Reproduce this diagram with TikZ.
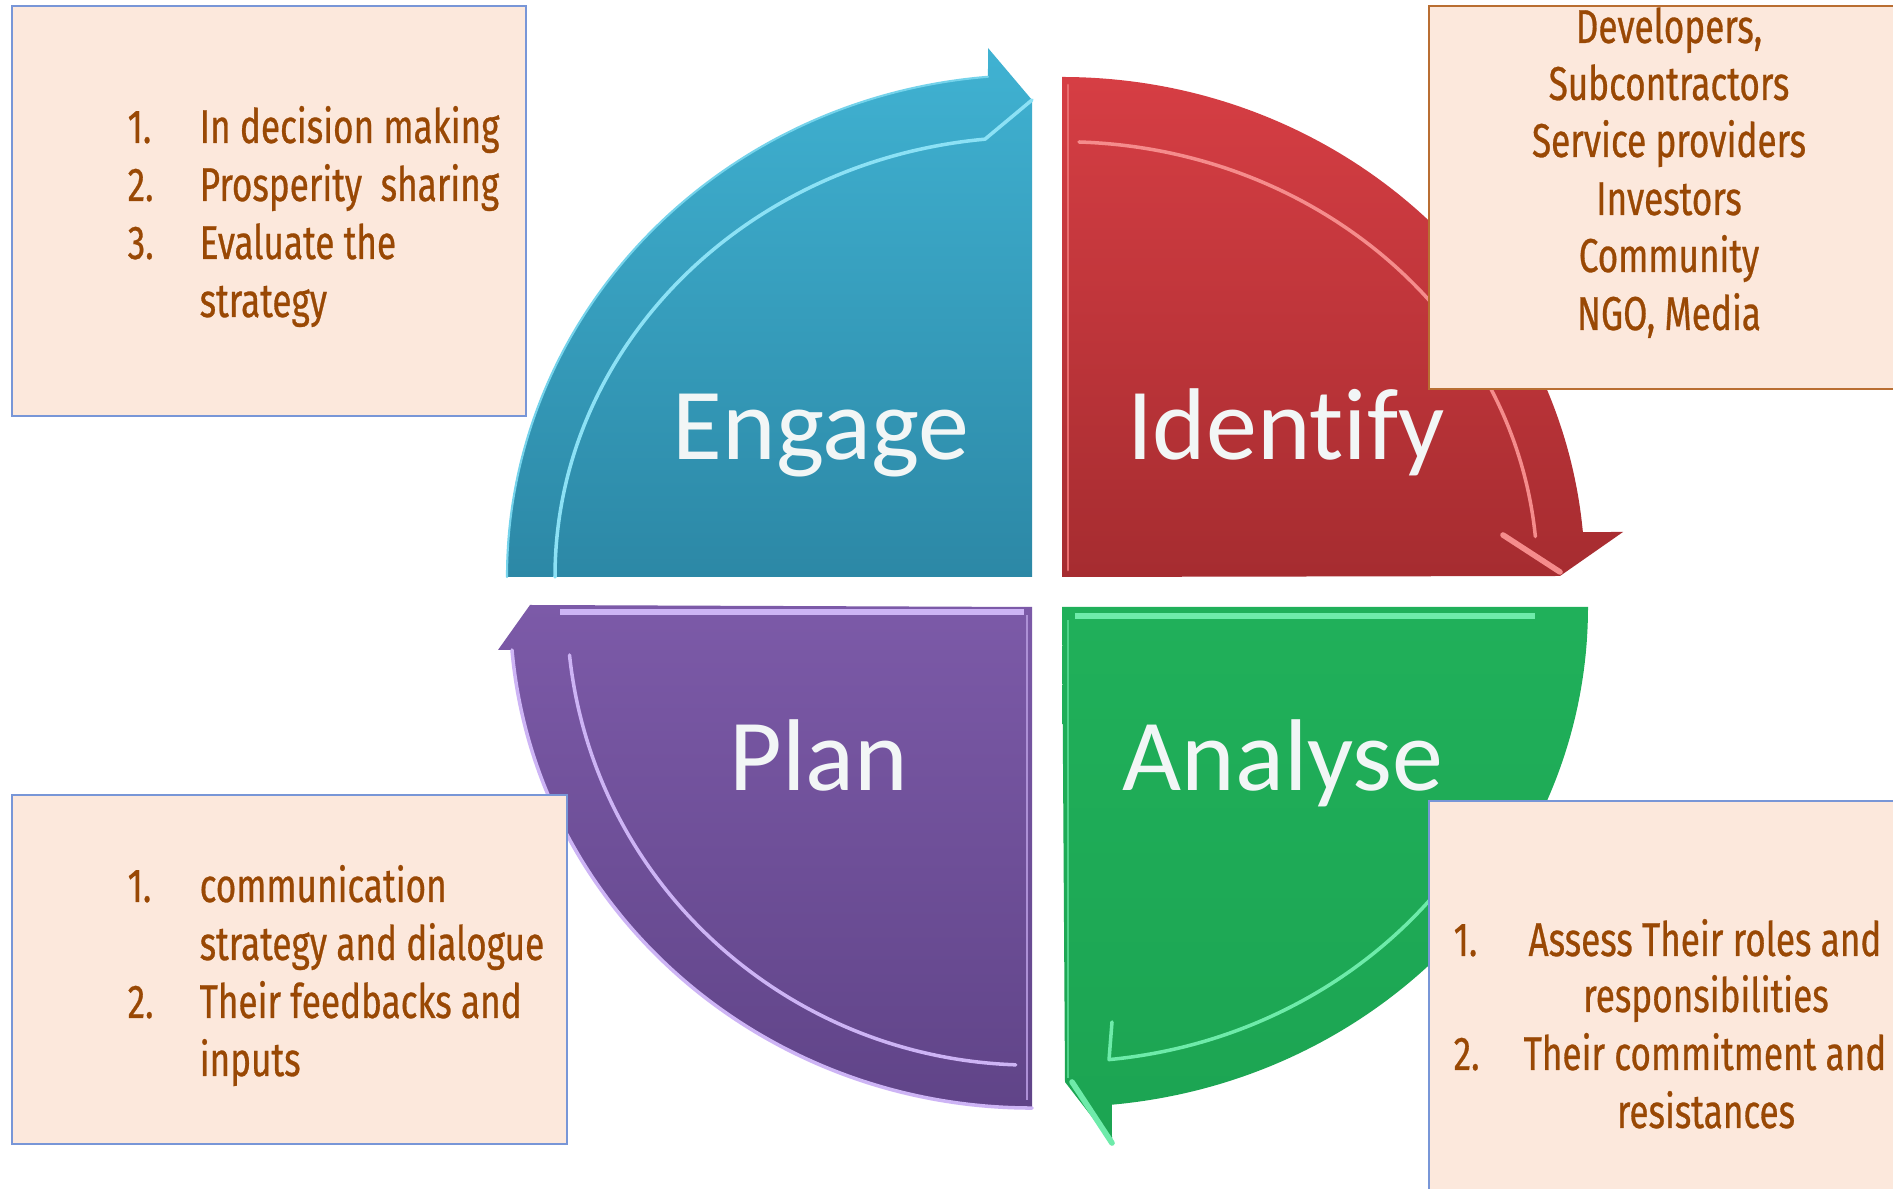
\documentclass[tikz,border=0pt]{standalone}
\usepackage{fontspec}
\newfontfamily\boxfont[FakeStretch=0.74,FakeBold=0.6]{Fira Sans}
\newfontfamily\labelfont[Ligatures=NoCommon]{Carlito}
\newcommand\boxtxt{\boxfont\fontsize{13.5}{16.5}\selectfont}
\newcommand\labtxt{\labelfont\fontsize{29}{34}\selectfont}
\definecolor{boxfill}{RGB}{252,232,220}
\definecolor{boxblue}{RGB}{120,150,215}
\definecolor{boxbrown}{RGB}{185,110,50}
\definecolor{txtbrown}{RGB}{153,72,4}
\definecolor{engtop}{RGB}{64,178,210}
\definecolor{engbot}{RGB}{44,136,166}
\definecolor{idtop}{RGB}{214,62,68}
\definecolor{idbot}{RGB}{166,44,48}
\definecolor{pltop}{RGB}{124,90,168}
\definecolor{plbot}{RGB}{96,68,136}
\definecolor{antop}{RGB}{32,176,90}
\definecolor{anbot}{RGB}{28,164,82}
\definecolor{englt}{RGB}{140,225,245}
\definecolor{idlt}{RGB}{245,140,140}
\definecolor{pllt}{RGB}{205,180,245}
\definecolor{anlt}{RGB}{110,235,170}
\definecolor{labwhite}{RGB}{242,246,246}
\begin{document}
\begin{tikzpicture}[x=0.01cm,y=-0.01cm,
  infobox/.style={line width=0.6pt, fill=boxfill, inner sep=0pt, anchor=north west},
  itemtxt/.style={anchor=base west, inner sep=0pt, text=txtbrown, font=\boxtxt},
  centtxt/.style={anchor=base, inner sep=0pt, text=txtbrown, font=\boxtxt},
  lab/.style={anchor=base, inner sep=0pt, text=labwhite, font=\labtxt},
  hl/.style={line width=1pt, line cap=round, line join=round},
  rim/.style={line width=0.6pt, line cap=round}]
\useasboundingbox (0,0) rectangle (1893,1189);
\fill[white] (0,0) rectangle (1893,1189);

% ---------- quadrants ----------
% Engage (teal)
\shade[top color=engtop, bottom color=engbot]
  (1032,577) -- (507,577) arc[start angle=180, end angle=265.19, x radius=525, y radius=502]
  -- (988,48) -- (1032,100) -- cycle;
\draw[rim, englt!70!engtop] (507,577) arc[start angle=180, end angle=265.19, x radius=525, y radius=502];
\draw[hl, englt] (555,577) arc[start angle=180, end angle=264.35, x radius=477, y radius=440] -- (1032,100);

% Identify (red)
\shade[top color=idtop, bottom color=idbot]
  (1062,577) -- (1062,77) arc[start angle=270, end angle=354.84, x radius=523, y radius=500]
  -- (1623,532) -- (1560,576) -- cycle;
\draw[hl, idlt!60!idtop, line width=0.8pt] (1068,85) -- (1068,570);
\draw[hl, idlt] (1079,142) arc[start angle=272, end angle=354.7, x radius=475, y radius=435];
\draw[hl, idlt, line width=1.6pt] (1503,535) -- (1560,572);

% Plan (purple)
\shade[top color=pltop, bottom color=plbot]
  (1032,607) -- (530,605) -- (498,650) -- (512,650)
  arc[start angle=175.08, end angle=90, x radius=522, y radius=501] -- cycle;
\draw[rim, pllt, line width=1pt] (512,650) arc[start angle=175.08, end angle=90, x radius=522, y radius=501];
\draw[pllt, line width=1.8pt] (560,612) -- (1024,612);
\draw[pllt!60!pltop, line width=0.8pt] (1027,615) -- (1027,1100);
\draw[hl, pllt] (569.5,655) arc[start angle=174, end angle=92, x radius=465, y radius=458];

% Analyse (green)
\shade[top color=antop, bottom color=anbot]
  (1062,607) -- (1588,607) arc[start angle=0, end angle=84.55, x radius=526, y radius=500]
  -- (1112,1143) -- (1065,1082) -- cycle;
\draw[anlt, line width=1.8pt] (1075,616) -- (1535,616);
\draw[anlt!60!antop, line width=0.8pt] (1068,620) -- (1068,1078);
\draw[hl, anlt] (1441,887) arc[start angle=38, end angle=84.3, x radius=482, y radius=455] -- (1112,1022);
\draw[hl, anlt, line width=1.6pt] (1072,1082) -- (1112,1143);

% ---------- quadrant labels ----------
\node[lab] (engage) at (821,460) {Engage};
\node[lab] (identify) at (1286,460) {Identify};
\node[lab] (plan) at (819,791) {Plan};
\node[lab] (analyse) at (1283,791) {Analyse};

% ---------- text boxes ----------
\node[infobox, draw=boxblue, minimum width=5.14cm, minimum height=4.10cm] (tlbox) at (11,5) {};
\node[infobox, draw=boxbrown, minimum width=4.80cm, minimum height=3.83cm] (trbox) at (1428,5) {};
\node[infobox, draw=boxblue, minimum width=5.55cm, minimum height=3.49cm] (blbox) at (11,794) {};
\node[infobox, draw=boxblue, minimum width=4.80cm, minimum height=4.00cm] (brbox) at (1428,800) {};

% top-left box
\node[itemtxt] (tl1n) at (127,143) {1.};
\node[itemtxt] (tl1) at (199,143) {In decision making};
\node[itemtxt] (tl2n) at (127,201) {2.};
\node[itemtxt] (tl2) at (199,201) {Prosperity\ \ sharing};
\node[itemtxt] (tl3n) at (127,259) {3.};
\node[itemtxt] (tl3) at (199,259) {Evaluate the};
\node[itemtxt] (tl4) at (199,317) {strategy};

% top-right box
\node[centtxt] (tr1) at (1669,43) {Developers,};
\node[centtxt] (tr2) at (1669,100) {Subcontractors};
\node[centtxt] (tr3) at (1669,157) {Service providers};
\node[centtxt] (tr4) at (1669,215) {Investors};
\node[centtxt] (tr5) at (1669,272) {Community};
\node[centtxt] (tr6) at (1669,330) {NGO, Media};

% bottom-left box
\node[itemtxt] (bl1n) at (127,902) {1.};
\node[itemtxt] (bl1) at (199,902) {communication};
\node[itemtxt] (bl2) at (199,960) {strategy and dialogue};
\node[itemtxt] (bl3n) at (127,1018) {2.};
\node[itemtxt] (bl3) at (199,1018) {Their feedbacks and};
\node[itemtxt] (bl4) at (199,1076) {inputs};

% bottom-right box
\node[itemtxt] (br1n) at (1453,956) {1.};
\node[centtxt] (br1) at (1705,956) {Assess Their roles and};
\node[centtxt] (br2) at (1706,1012) {responsibilities};
\node[itemtxt] (br3n) at (1453,1070) {2.};
\node[centtxt] (br3) at (1705,1070) {Their commitment and};
\node[centtxt] (br4) at (1706,1128) {resistances};
\end{tikzpicture}
\end{document}
